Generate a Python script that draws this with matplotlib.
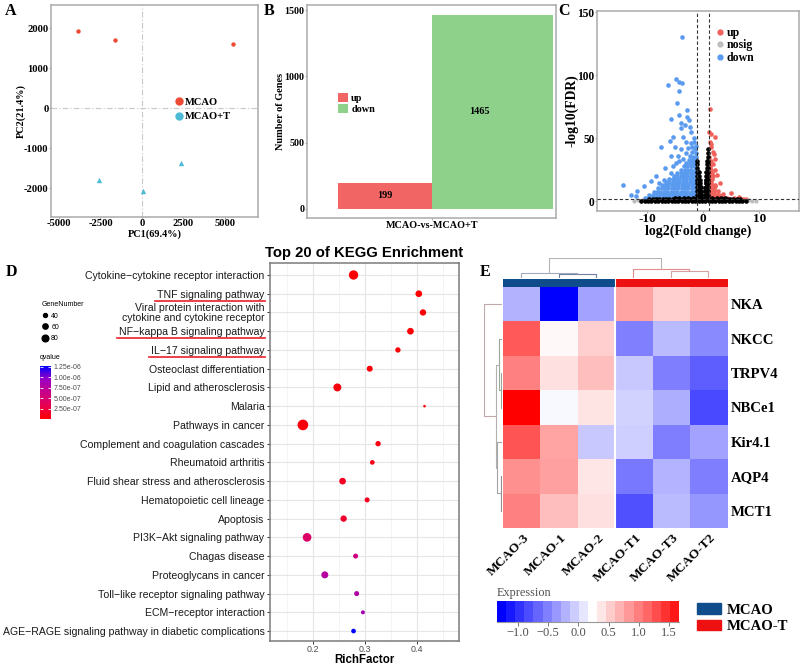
import matplotlib
matplotlib.use("Agg")
import matplotlib.pyplot as plt
import numpy as np
from matplotlib.colors import LinearSegmentedColormap, ListedColormap, Normalize
from matplotlib.cm import ScalarMappable
from matplotlib.lines import Line2D
from matplotlib.patches import Patch

SERIF = "Liberation Serif"
SANS = "Liberation Sans"
plt.rcParams["font.family"] = [SERIF, "DejaVu Sans"]
plt.rcParams["axes.unicode_minus"] = False

# ---------------- A: PCA ----------------
pc1_mcao = [-3850, -1600, 5500]
pc2_mcao = [1920, 1700, 1600]
pc1_mcao_t = [-2600, 80, 2350]
pc2_mcao_t = [-1800, -2070, -1370]
pca_groups = ["MCAO", "MCAO+T"]
pc1_ticks = [-5000, -2500, 0, 2500, 5000]
pc2_ticks = [-2000, -1000, 0, 1000, 2000]

# ---------------- B: DEG counts ----------------
deg_groups = ["up", "down"]
deg_counts = [199, 1465]
comparison = "MCAO-vs-MCAO+T"
count_ticks = [0, 500, 1000, 1500]

# ---------------- C: volcano ----------------
down_scatter = [(-3.7, 130), (-4.9, 96.6), (-4.2, 94.7), (-3.7, 94), (-6.2, 92), (-4.3, 87),
                (-4.6, 78), (-2.9, 72), (-4.3, 68), (-2.8, 67), (-5.7, 65), (-2.5, 64.5),
                (-3.9, 62), (-3.3, 60.5), (-2.4, 59), (-2.2, 55), (-4.0, 58), (-5.9, 48),
                (-7.5, 43), (-3.6, 51), (-3.1, 47), (-2.2, 46), (-1.7, 46.5), (-5.4, 51),
                (-5.0, 43), (-3.9, 41), (-1.9, 43), (-4.4, 35.5), (-5.8, 35.5), (-3.1, 38),
                (-2.4, 35.5), (-1.5, 41), (-8.3, 20), (-6.9, 17), (-9.2, 16), (-7.8, 14.5),
                (-10.6, 12), (-11.7, 8), (-14.2, 13), (-12.8, 5), (-11.9, 4), (-5.8, 22),
                (-5.3, 27.6), (-4.2, 31.6), (-6.4, 14.5), (-2.0, 39), (-1.3, 38), (-1.6, 50),
                (-2.7, 42), (-3.5, 33), (-6.8, 26), (-4.8, 30), (-1.2, 44)]
down_core = [(2.5, [-10.4, -9.8, -9.2, -8.6, -8.0, -7.4, -6.8, -6.2, -5.6, -5.0, -4.4, -3.8, -3.2, -2.6, -2.0, -1.4]),
             (5.0, [-9.6, -9.0, -8.4, -7.8, -7.2, -6.6, -6.0, -5.4, -4.8, -4.2, -3.6, -3.0, -2.4, -1.8, -1.2]),
             (7.5, [-8.8, -8.2, -7.6, -7.0, -6.4, -5.8, -5.2, -4.6, -4.0, -3.4, -2.8, -2.2, -1.6, -1.1]),
             (10.0, [-8.0, -7.4, -6.8, -6.2, -5.6, -5.0, -4.4, -3.8, -3.2, -2.6, -2.0, -1.4]),
             (12.5, [-7.4, -6.8, -6.2, -5.6, -5.0, -4.4, -3.8, -3.2, -2.6, -2.0, -1.4, -1.1]),
             (15.0, [-6.6, -6.0, -5.4, -4.8, -4.2, -3.6, -3.0, -2.4, -1.8, -1.2]),
             (17.5, [-6.0, -5.4, -4.8, -4.2, -3.6, -3.0, -2.4, -1.8, -1.2]),
             (20.0, [-5.2, -4.6, -4.0, -3.4, -2.8, -2.2, -1.6, -1.1]),
             (22.5, [-4.6, -4.0, -3.4, -2.8, -2.2, -1.6, -1.2]),
             (25.0, [-3.9, -3.3, -2.7, -2.1, -1.5, -1.1]),
             (27.5, [-3.4, -2.8, -2.2, -1.6, -1.2]),
             (30.0, [-3.0, -2.4, -1.8, -1.3]),
             (32.5, [-2.5, -1.9, -1.4]),
             (35.0, [-1.8, -1.3])]
up_scatter = [(1.2, 73), (1.0, 55), (1.4, 53), (2.2, 51), (1.2, 47), (1.4, 43), (1.7, 39),
              (1.9, 37.6), (2.2, 33), (1.4, 31.6), (1.8, 29), (1.3, 26), (2.2, 25), (2.5, 20.5),
              (1.7, 19.7), (1.4, 16.6), (3.1, 14.5), (2.2, 12), (1.9, 9), (5.0, 6.6), (3.6, 5.3),
              (6.4, 3.4), (7.2, 1.8), (2.8, 5), (3.3, 2.6), (4.7, 1.8), (7.6, 1.5), (5.6, 2.2),
              (2.6, 8), (1.1, 35), (1.5, 45)]
up_core = [(2.5, [1.2, 1.6, 2.0, 2.4, 2.9, 3.5, 4.2]),
           (5.0, [1.1, 1.5, 1.9, 2.4]),
           (7.5, [1.2, 1.6, 2.0]),
           (10.0, [1.1, 1.5, 1.9]),
           (12.5, [1.2, 1.6, 2.1]),
           (15.0, [1.1, 1.5]),
           (17.5, [1.2, 1.6]),
           (20.0, [1.1, 1.5]),
           (22.5, [1.2, 1.6]),
           (25.0, [1.1, 1.4]),
           (27.5, [1.2]),
           (30.0, [1.1])]
nosig_pts = [(-11.6, 0.6), (-12.3, 0.4), (8.2, 0.5), (8.8, 0.4), (9.4, 0.3), (-10.9, 0.9), (7.9, 0.8)]
black_band = [(0.3, [-11.0, -10.4, -9.8, -9.2, -8.6, -8.0, -7.4, -6.8, -6.2, -5.6, -5.0, -4.4, -3.8, -3.2,
                     -2.6, -2.0, -1.4, -0.8, -0.2, 0.4, 1.0, 1.6, 2.2, 2.8, 3.4, 4.0, 4.6, 5.2, 5.8, 6.4,
                     7.0, 7.6]),
              (1.4, [-9.6, -9.0, -8.4, -7.8, -7.2, -6.6, -6.0, -5.4, -4.8, -4.2, -3.6, -3.0, -2.4, -1.8,
                     -1.2, -0.6, 0.0, 0.6, 1.2, 1.8, 2.4, 3.0, 3.6, 4.2, 4.8, 5.4, 6.0, 6.6]),
              (2.5, [-5.0, -4.2, -3.4, -2.6, -1.8, -1.0, -0.4, 0.3, 0.9, 1.6, 2.4, 3.2, 4.0])]
black_v = [(-1.0, [5, 8, 11, 14, 17, 20, 23, 26, 29, 32]),
           (-0.8, [5, 8, 11, 14, 17, 20, 23]),
           (-0.6, [5, 8, 11, 14, 17]),
           (-0.45, [5, 8, 11]),
           (-0.3, [5, 7]),
           (0.3, [5, 8, 10]),
           (0.45, [5, 8, 11, 14, 17]),
           (0.6, [5, 8, 11, 14, 17, 20, 23]),
           (0.75, [5, 8, 11, 14, 17, 20, 23, 26, 29, 32]),
           (0.9, [5, 8, 11, 14, 17, 20, 23, 26, 29, 32, 35, 38, 41])]
fc_ticks = [-10, 0, 10]
fdr_ticks = [0, 50, 100, 150]

# ---------------- D: KEGG enrichment ----------------
kegg_terms = ["Cytokine\u2212cytokine receptor interaction",
              "TNF signaling pathway",
              "Viral protein interaction with\ncytokine and cytokine receptor",
              "NF\u2212kappa B signaling pathway",
              "IL\u221217 signaling pathway",
              "Osteoclast differentiation",
              "Lipid and atherosclerosis",
              "Malaria",
              "Pathways in cancer",
              "Complement and coagulation cascades",
              "Rheumatoid arthritis",
              "Fluid shear stress and atherosclerosis",
              "Hematopoietic cell lineage",
              "Apoptosis",
              "PI3K\u2212Akt signaling pathway",
              "Chagas disease",
              "Proteoglycans in cancer",
              "Toll\u2212like receptor signaling pathway",
              "ECM\u2212receptor interaction",
              "AGE\u2212RAGE signaling pathway in diabetic complications"]
rich_factor = [0.278, 0.403, 0.411, 0.387, 0.363, 0.309, 0.247, 0.414, 0.181, 0.325,
               0.314, 0.257, 0.304, 0.259, 0.189, 0.282, 0.223, 0.284, 0.296, 0.278]
gene_number = [119, 80, 75, 80, 60, 70, 99, 20, 139, 60,
               50, 80, 55, 75, 109, 55, 84, 55, 40, 50]
qvalue = [2e-8, 1e-8, 1.5e-8, 2e-8, 3e-8, 4e-8, 6e-8, 6e-8, 5e-8, 7e-8,
          9e-8, 1.4e-7, 1.3e-7, 1.8e-7, 4.5e-7, 5.8e-7, 7.6e-7, 7.9e-7, 8.6e-7, 1.27e-6]
underlined_terms = ["TNF signaling pathway", "NF\u2212kappa B signaling pathway", "IL\u221217 signaling pathway"]
size_breaks = [40, 60, 80]
q_breaks = [2.5e-7, 5e-7, 7.5e-7, 1e-6, 1.25e-6]
rich_ticks = [0.2, 0.3, 0.4]

# ---------------- E: heatmap ----------------
genes = ["NKA", "NKCC", "TRPV4", "NBCe1", "Kir4.1", "AQP4", "MCT1"]
samples = ["MCAO-3", "MCAO-1", "MCAO-2", "MCAO-T1", "MCAO-T3", "MCAO-T2"]
sample_group = [0, 0, 0, 1, 1, 1]
group_names = ["MCAO", "MCAO-T"]
expr = [[-0.29, -1.34, -0.37, 0.69, 0.45, 0.60],
        [1.13, 0.20, 0.45, -0.58, -0.25, -0.52],
        [0.90, 0.34, 0.54, -0.16, -0.60, -0.78],
        [1.66, 0.12, 0.32, -0.10, -0.31, -0.90],
        [1.16, 0.69, -0.16, -0.13, -0.60, -0.37],
        [0.81, 0.72, 0.31, -0.63, -0.28, -0.60],
        [0.90, 0.54, 0.34, -0.87, -0.25, -0.46]]
# merges: (left node, right node, height, colour); leaves are in display order
col_merges = [(1, 2, 0.20, "#6F7FA3"), (0, 6, 0.25, "#A3A9B8"), (4, 5, 0.33, "#D9A0A0"),
              (3, 8, 0.45, "#E58C8C"), (7, 9, 1.0, "#B5B5B5")]
row_merges = [(2, 3, 0.074, "#9AA89A"), (5, 6, 0.074, "#8E8E8E"), (1, 7, 0.148, "#9AA89A"),
              (4, 8, 0.26, "#A5A5A5"), (9, 10, 0.333, "#B0B0B0"), (0, 11, 1.0, "#C0A8A8")]
expr_ticks = [-1.0, -0.5, 0.0, 0.5, 1.0, 1.5]

W, H = 800, 668


def box(x0, y0, x1, y1):
    return [x0 / W, 1 - y1 / H, (x1 - x0) / W, (y1 - y0) / H]


def serif_b(size):
    return dict(fontsize=size, fontweight="bold", fontfamily=SERIF)


def frame(ax, color):
    for sp in ax.spines.values():
        sp.set_color(color)
        sp.set_linewidth(1.1)
    ax.tick_params(color=color, length=1.2, width=0.8, pad=0.6)


def unpack(rows, pts=()):
    xs = [x for x, y in pts]
    ys = [y for x, y in pts]
    for y, row in rows:
        xs += list(row)
        ys += [y] * len(row)
    return xs, ys


def unpack_cols(cols):
    xs, ys = [], []
    for x, col in cols:
        xs += [x] * len(col)
        ys += list(col)
    return xs, ys


fig = plt.figure(figsize=(8, 6.68), dpi=100)

# ======== A ========
RED_A, CYAN = "#EC4A33", "#4DBBD5"
axA = fig.add_axes(box(51, 5, 258, 217))
axA.axhline(0, color="#C8C8C8", lw=0.8, ls=(0, (5, 2, 1, 2)), zorder=1)
axA.axvline(0, color="#C8C8C8", lw=0.8, ls=(0, (5, 2, 1, 2)), zorder=1)
axA.scatter(pc1_mcao, pc2_mcao, s=10, color=RED_A, linewidths=0, zorder=3)
axA.scatter(pc1_mcao_t, pc2_mcao_t, s=15, marker="^", color=CYAN, linewidths=0, zorder=3)
axA.set_xlim(-5480, 6990)
axA.set_ylim(-2725, 2575)
axA.set_xticks(pc1_ticks, [str(v) for v in pc1_ticks], **serif_b(7.6))
axA.set_yticks(pc2_ticks, [str(v) for v in pc2_ticks], **serif_b(7.6))
axA.set_xlabel("PC1(69.4%)", labelpad=1, **serif_b(7.4))
axA.set_ylabel("PC2(21.4%)", labelpad=-1.5, **serif_b(7.4))
frame(axA, "#AAAAAA")
axA.legend(handles=[Line2D([], [], marker="o", ls="", color=c, ms=5) for c in (RED_A, CYAN)],
           labels=pca_groups, loc="upper left", bbox_to_anchor=(0.565, 0.59), frameon=False,
           prop=dict(family=SERIF, weight="bold", size=7.6), handletextpad=0.15,
           labelspacing=0.5, borderpad=0, handlelength=1.0)

# ======== B ========
bar_colors = ["#F16565", "#8ED18B"]
bar_w = [0.45, 0.58]
axB = fig.add_axes(box(307, 5, 556, 218))
for i, (g, n) in enumerate(zip(deg_groups, deg_counts)):
    left = 1 - bar_w[0] if i == 0 else 1
    axB.bar(left, n, width=bar_w[i], align="edge", color=bar_colors[i], label=g)
    axB.text(1 + (i - 0.5) * 0.45, n / 2, str(n), ha="center", va="center", **serif_b(7.4))
axB.set_xlim(0.402, 1.593)
axB.set_ylim(-68, 1538)
axB.set_xticks([1], [comparison], **serif_b(7.3))
axB.set_yticks(count_ticks, [str(v) for v in count_ticks], **serif_b(7.2))
axB.set_ylabel("Number of Genes", labelpad=-0.5, **serif_b(7.4))
frame(axB, "#AAAAAA")
axB.legend(loc="upper left", bbox_to_anchor=(0.105, 0.61), frameon=False,
           prop=dict(family=SERIF, weight="bold", size=7.4), handlelength=0.95,
           handleheight=0.95, handletextpad=0.3, labelspacing=0.05, borderpad=0)

# ======== C ========
V_UP, V_DOWN, V_NOSIG = "#F0625C", "#5A9BF0", "#BDBDBD"
axC = fig.add_axes(box(597, 11, 799, 211))
dx, dy = unpack(down_core, down_scatter)
ux, uy = unpack(up_core, up_scatter)
nx, ny = unpack([], nosig_pts)
bx, by = unpack(black_band)
vx, vy = unpack_cols(black_v)
axC.scatter(dx, dy, s=11, color=V_DOWN, linewidths=0, zorder=2)
axC.scatter(ux, uy, s=11, color=V_UP, linewidths=0, zorder=2)
axC.scatter(nx, ny, s=9, color=V_NOSIG, linewidths=0, zorder=2)
axC.scatter(bx + vx, by + vy, s=11, color="black", linewidths=0, zorder=3)
for xv in (-1, 1):
    axC.axvline(xv, color="#333333", lw=0.8, ls=(0, (3, 2)), zorder=4)
axC.axhline(-np.log10(0.05), color="#333333", lw=0.8, ls=(0, (3, 2)), zorder=4)
axC.set_xlim(-18.9, 17.1)
axC.set_ylim(-7.9, 150.8)
axC.set_xticks(fc_ticks, [str(v) for v in fc_ticks], **serif_b(9.5))
axC.set_yticks(fdr_ticks, [str(v) for v in fdr_ticks], **serif_b(8.3))
frame(axC, "#AAAAAA")
axC.set_xlabel("log2(Fold change)", labelpad=-1, **serif_b(10))
axC.set_ylabel("-log10(FDR)", labelpad=-1, **serif_b(9.8))
axC.legend(handles=[Line2D([], [], marker="o", ls="", color=c, ms=3.5) for c in (V_UP, V_NOSIG, V_DOWN)],
           labels=["up", "nosig", "down"], loc="upper left", bbox_to_anchor=(0.55, 0.95),
           frameon=False, prop=dict(family=SERIF, weight="bold", size=8.5),
           handletextpad=0.1, labelspacing=0.05, borderpad=0, handlelength=1.0)

# ======== D ========
qcmap = LinearSegmentedColormap.from_list(
    "q", [(0, "#FF0000"), (0.25, "#E7004F"), (0.5, "#C80088"), (0.75, "#9A00C3"), (1, "#0000FF")])
qnorm = Normalize(0, 1.27e-6)


def diam_px(n):
    return 4 + 0.0675 * (n - 40)


axD = fig.add_axes(box(270, 263, 459, 641))
ypos = np.arange(len(kegg_terms))
axD.scatter(rich_factor, ypos, s=[(diam_px(n) * 0.72) ** 2 for n in gene_number],
            c=qvalue, cmap=qcmap, norm=qnorm, linewidths=0, zorder=3)
axD.set_xlim(0.118, 0.48)
axD.set_ylim(len(kegg_terms) - 1 + 0.53, -0.64)
axD.set_xticks(rich_ticks, [str(v) for v in rich_ticks], fontfamily=SANS, fontsize=6.4, color="#4D4D4D")
axD.set_xticks([0.15, 0.25, 0.35, 0.45], minor=True)
axD.set_yticks(ypos, kegg_terms, fontfamily=SANS, fontsize=7.6, color="#1A1A1A", linespacing=0.95)
axD.grid(True, which="major", color="#E6E6E6", lw=0.8, zorder=0)
axD.grid(True, which="minor", axis="x", color="#F0F0F0", lw=0.5, zorder=0)
axD.set_axisbelow(True)
axD.tick_params(which="minor", length=0)
axD.tick_params(which="major", length=2.5, width=0.7, color="#333333", pad=1.5)
axD.tick_params(axis="x", which="major", length=2, pad=1)
for sp in axD.spines.values():
    sp.set_color("#7A7A7A")
    sp.set_linewidth(1.1)
axD.set_xlabel("RichFactor", fontfamily=SANS, fontsize=8.3, fontweight="bold", labelpad=0)
axD.set_title("Top 20 of KEGG Enrichment", fontfamily=SANS, fontsize=10.7, fontweight="bold", pad=4)

fig.legend(handles=[Line2D([], [], marker="o", ls="", color="black", ms=diam_px(n) * 0.72) for n in size_breaks],
           labels=[str(n) for n in size_breaks], title="GeneNumber", loc="upper left",
           bbox_to_anchor=(38 / W, 1 - 298 / H), frameon=False,
           prop=dict(family=SANS, size=5), title_fontproperties=dict(family=SANS, size=5),
           alignment="left", handlelength=1.0, handletextpad=0.4, labelspacing=0.6, borderpad=0)
fig.text(40 / W, 1 - 358 / H, "qvalue", fontfamily=SANS, fontsize=5, va="center", ha="left")
caxQ = fig.add_axes(box(40, 366, 51, 419))
cbQ = fig.colorbar(ScalarMappable(qnorm, qcmap), cax=caxQ)
cbQ.outline.set_visible(False)
cbQ.set_ticks(q_breaks, labels=["%.2e" % q for q in q_breaks])
caxQ.tick_params(axis="y", direction="in", color="white", length=2, width=0.6,
                 left=True, right=True, pad=2, labelsize=5, labelcolor="#4D4D4D")
for lab in caxQ.get_yticklabels():
    lab.set_fontfamily(SANS)

# ======== E ========
MCAO_BLUE, MCAO_RED = "#0F4C8C", "#EE1111"
hm_cmap = LinearSegmentedColormap.from_list("bwr2", ["#0000FF", "#FFFFFF", "#FF0000"])
hm_norm = Normalize(-1.34, 1.66)
nrow, ncol = len(genes), len(samples)

axE = fig.add_axes(box(502.7, 287.3, 726.7, 527.7))
axE.imshow(expr, cmap=hm_cmap, norm=hm_norm, aspect="auto", extent=(0, ncol, nrow, 0),
           interpolation="nearest")
axE.axvline(3, color="white", lw=1.5)
for sp in axE.spines.values():
    sp.set_visible(False)
axE.yaxis.tick_right()
axE.set_yticks(np.arange(nrow) + 0.5, genes, **serif_b(10.6))
axE.set_xticks(np.arange(ncol) + 0.55, samples, rotation=45, ha="right", va="top",
               rotation_mode="anchor", **serif_b(9.6))
axE.tick_params(length=0, pad=3)

axAnn = fig.add_axes(box(502.7, 279.3, 726.7, 287.3))
axAnn.imshow([sample_group], cmap=ListedColormap([MCAO_BLUE, MCAO_RED]), aspect="auto",
             extent=(0, ncol, 1, 0), interpolation="nearest")
axAnn.axvline(3, color="white", lw=0.8)
axAnn.axis("off")


def draw_dendro(ax, merges, n_leaves, top=True):
    pos = [i + 0.5 for i in range(n_leaves)]
    hgt = [0.0] * n_leaves
    for a, b, h, col in merges:
        xs = [pos[a], pos[a], pos[b], pos[b]]
        ys = [hgt[a], h, h, hgt[b]]
        if top:
            ax.plot(xs, ys, color=col, lw=0.8, solid_capstyle="butt")
        else:
            ax.plot(ys, xs, color=col, lw=0.8, solid_capstyle="butt")
        pos.append((pos[a] + pos[b]) / 2)
        hgt.append(h)


axCD = fig.add_axes(box(502.7, 257.5, 726.7, 278.3))
draw_dendro(axCD, col_merges, ncol, top=True)
axCD.set_xlim(0, ncol)
axCD.set_ylim(0, 1.0)
axCD.axis("off")

axRD = fig.add_axes(box(483.5, 287.3, 502.2, 527.7))
draw_dendro(axRD, row_merges, nrow, top=False)
axRD.set_xlim(1.0, 0)
axRD.set_ylim(nrow, 0)
axRD.axis("off")

# stepped expression key
caxE = fig.add_axes(box(497, 600.7, 679, 621.7))
edges = np.linspace(hm_norm.vmin, hm_norm.vmax, 21)
caxE.pcolormesh(edges, [0, 1], [edges[:-1]], cmap=hm_cmap, norm=hm_norm)
caxE.set_xlim(hm_norm.vmin, hm_norm.vmax)
caxE.set_ylim(0, 1)
caxE.set_yticks([])
caxE.set_xticks(expr_ticks, ["%.1f" % v if v >= 0 else "\u2212%.1f" % -v for v in expr_ticks],
                fontfamily=SERIF, fontsize=9, color="#505050")
caxE.tick_params(axis="x", color="#777777", length=3, width=0.7, pad=1)
for k, sp in caxE.spines.items():
    sp.set_visible(k == "bottom")
caxE.spines["bottom"].set_color("#999999")
fig.text(497 / W, 1 - 593 / H, "Expression", fontfamily=SERIF, fontsize=8.8, color="#505050",
         ha="left", va="center")
fig.legend(handles=[Patch(color=MCAO_BLUE), Patch(color=MCAO_RED)], labels=group_names,
           loc="upper left", bbox_to_anchor=(690 / W, 1 - 596 / H), frameon=False,
           prop=dict(family=SERIF, weight="bold", size=10.6), handlelength=1.6,
           handleheight=0.7, handletextpad=0.4, labelspacing=0.2, borderpad=0)

# panel letters
for letter, (px, py) in zip("ABCDE", [(5, 3), (264, 3), (558, 3), (6, 264), (480, 264)]):
    fig.text(px / W, 1 - py / H, letter, fontfamily=SERIF, fontsize=11.5, fontweight="bold",
             ha="left", va="top")

# red underlines below highlighted pathway names
fig.canvas.draw()
renderer = fig.canvas.get_renderer()
for lab in axD.get_yticklabels():
    if lab.get_text() in underlined_terms:
        bb = lab.get_window_extent(renderer)
        y = (bb.y0 - 1) / H
        fig.add_artist(Line2D([(bb.x0 - 2) / W, (bb.x1 + 1) / W], [y, y], transform=fig.transFigure,
                              color="#E8202A", lw=1.2))

fig.savefig("out.png", dpi=100, facecolor="white")
